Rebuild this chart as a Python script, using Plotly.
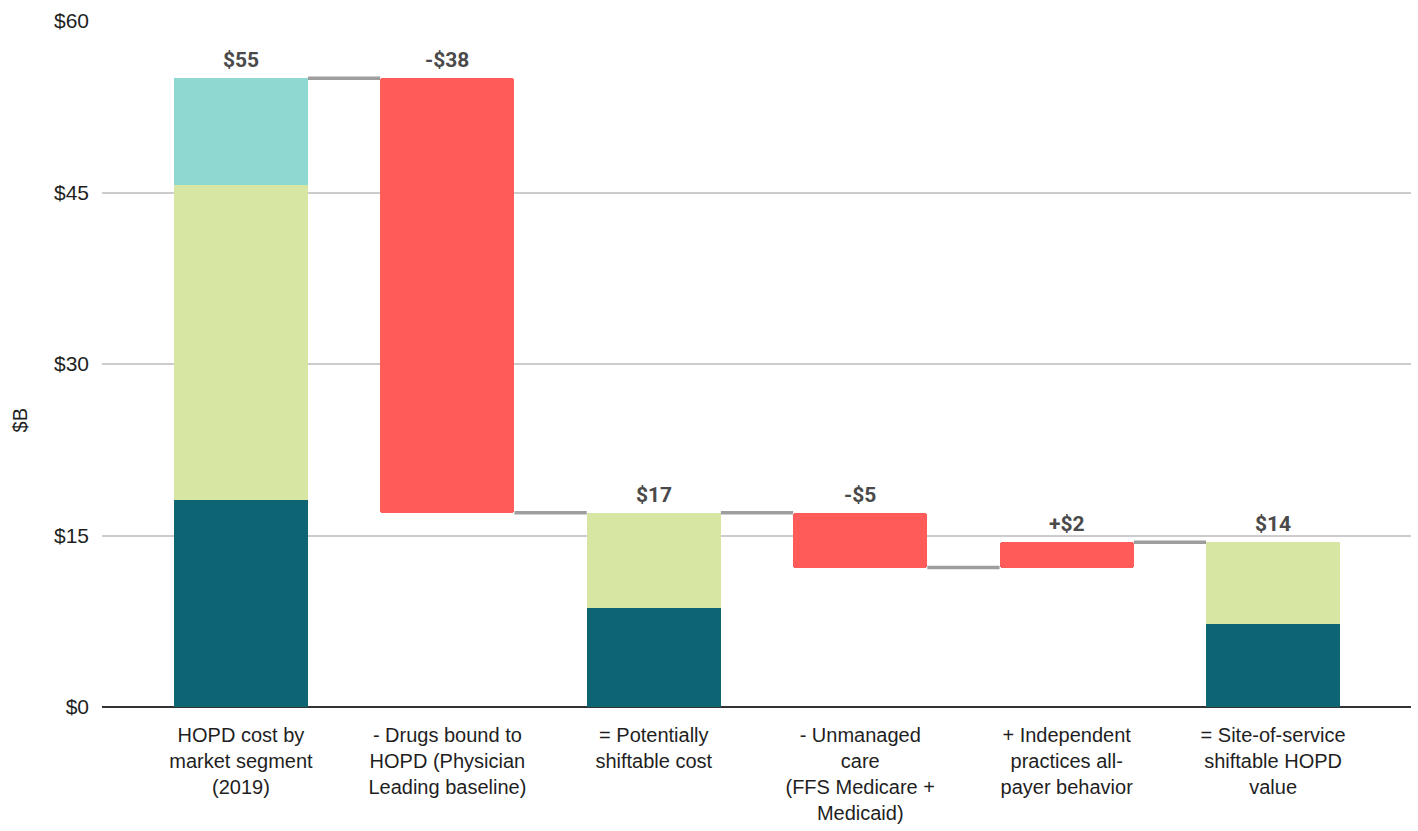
import plotly.graph_objects as go

# Waterfall of HOPD cost ($B): stacked totals, floating change bars
categories = [
    "HOPD cost by<br>market segment<br>(2019)",
    "- Drugs bound to<br>HOPD (Physician<br>Leading baseline)",
    "= Potentially<br>shiftable cost",
    "- Unmanaged<br>care<br>(FFS Medicare +<br>Medicaid)",
    "+ Independent<br>practices all-<br>payer behavior",
    "= Site-of-service<br>shiftable HOPD<br>value",
]

# Stacked segments of the total bars (None where the bar is a change step)
segment_dark = [18.1, None, 8.65, None, None, 7.25]
segment_green = [27.6, None, 8.35, None, None, 7.15]
segment_light = [9.3, None, None, None, None, None]

# Change steps between totals
changes = [None, -38, None, -4.8, 2.2, None]

y_ticks = [0, 15, 30, 45, 60]
y_tick_labels = ["$0", "$15", "$30", "$45", "$60"]

DARK = "#0d6473"
GREEN = "#d8e6a3"
LIGHT = "#8fd8d2"
RED = "#ff5c59"
CONNECTOR = "#9e9e9e"
BAR_W = 0.65
TEXT = "#1f1f1f"

# Running level after each category
levels = []
starts = []
level = 0.0
for i in range(len(categories)):
    if changes[i] is None:
        total = sum(v for v in (segment_dark[i], segment_green[i], segment_light[i]) if v is not None)
        starts.append(0.0)
        level = total
    else:
        starts.append(level)
        level = level + changes[i]
    levels.append(level)

fig = go.Figure()

def stack_trace(values, below, color):
    xs, ys, bases = [], [], []
    for i, v in enumerate(values):
        if v is None:
            continue
        b = sum(s[i] for s in below if s[i] is not None)
        xs.append(i)
        ys.append(v)
        bases.append(b)
    fig.add_trace(go.Bar(x=xs, y=ys, base=bases, width=BAR_W,
                         marker=dict(color=color, line=dict(width=0)),
                         hoverinfo="skip", showlegend=False))

stack_trace(segment_dark, [], DARK)
stack_trace(segment_green, [segment_dark], GREEN)
stack_trace(segment_light, [segment_dark, segment_green], LIGHT)

# Floating change bars
cx, cy, cb = [], [], []
for i, d in enumerate(changes):
    if d is None:
        continue
    lo = min(starts[i], levels[i])
    cx.append(i)
    cy.append(abs(d))
    cb.append(lo)
fig.add_trace(go.Bar(x=cx, y=cy, base=cb, width=BAR_W,
                     marker=dict(color=RED, line=dict(width=0), cornerradius=3),
                     hoverinfo="skip", showlegend=False))

# Connectors from each bar to the next at the running level
for i in range(len(categories) - 1):
    fig.add_trace(go.Scatter(
        x=[i + BAR_W / 2, i + 1 - BAR_W / 2], y=[levels[i], levels[i]],
        mode="lines", line=dict(color=CONNECTOR, width=3.5),
        hoverinfo="skip", showlegend=False))

# Value labels
for i in range(len(categories)):
    if changes[i] is None:
        text = f"${round(levels[i])}"
        top = levels[i]
    else:
        d = changes[i]
        text = f"{'-' if d < 0 else '+'}${abs(round(d))}"
        top = max(starts[i], levels[i])
    fig.add_annotation(x=i, y=top, text=f"<b>{text}</b>", showarrow=False,
                       yanchor="bottom", yshift=4,
                       font=dict(family="Roboto", size=21, color="#4a4a4a"))

# Axis title
fig.add_annotation(x=-0.063, y=0.417, xref="paper", yref="paper", text="$B",
                   textangle=-90, showarrow=False, xanchor="center", yanchor="middle",
                   font=dict(family="Liberation Sans, Arial", size=20, color=TEXT))

fig.update_layout(
    width=1418, height=831,
    margin=dict(l=102, r=7, t=21, b=122),
    paper_bgcolor="white", plot_bgcolor="white",
    barmode="overlay", bargap=0,
    font=dict(family="Liberation Sans, Arial", size=20, color=TEXT),
)
fig.update_xaxes(
    range=[-0.673, 5.668], tickmode="array",
    tickvals=list(range(len(categories))), ticktext=categories,
    showgrid=False, zeroline=False, showline=False, ticks="",
    ticklabelstandoff=14,
    tickfont=dict(family="Liberation Sans, Arial", size=20, color=TEXT),
)
fig.update_yaxes(
    range=[0, 60], tickmode="array", tickvals=y_ticks, ticktext=y_tick_labels,
    showgrid=True, gridcolor="#cccccc", gridwidth=1.5,
    zeroline=True, zerolinecolor="#333333", zerolinewidth=2,
    showline=False, ticks="", ticklabelstandoff=12,
    tickfont=dict(family="Liberation Sans, Arial", size=21, color=TEXT),
)

fig.write_html("out.html")
